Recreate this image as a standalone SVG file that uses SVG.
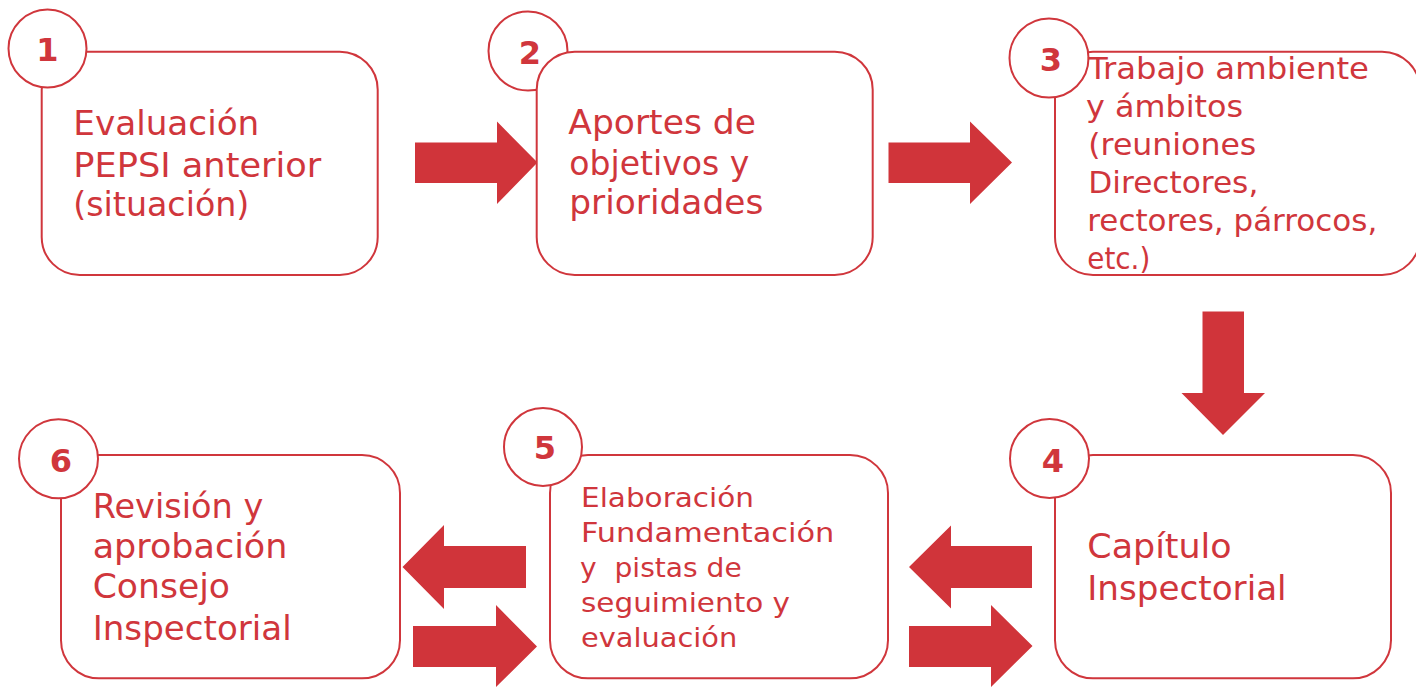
<svg xmlns="http://www.w3.org/2000/svg" width="1416" height="688" viewBox="0 0 1416 688">
<style>
.box{fill:#fff;stroke:#d0363c;stroke-width:2}
.num-c{fill:#fff;stroke:#d0363c;stroke-width:2}
.num{font-family:"DejaVu Sans",sans-serif;font-weight:bold;font-size:32px;fill:#d0363c;text-anchor:middle}
.t{font-family:"DejaVu Sans",sans-serif;fill:#d0363c;font-size:34px}
.t3{font-size:30.5px}
.t5{font-size:26.5px}
.arrow{fill:#d0343a}
</style>
<rect width="1416" height="688" fill="#fff"/>
<g id="connectors">
<polygon class="arrow" points="415,142.5 497,142.5 497,121.5 537.5,162.5 497,204 497,183 415,183"/>
<polygon class="arrow" points="888.5,142.5 970,142.5 970,121.5 1012,162.5 970,204 970,183 888.5,183"/>
<polygon class="arrow" points="1202.5,311.5 1244,311.5 1244,393 1265,393 1223,435 1181.5,393 1202.5,393"/>
<polygon class="arrow" points="1032,546 951,546 951,525.5 909,567 951,608.5 951,588 1032,588"/>
<polygon class="arrow" points="909,626 991,626 991,605 1032.5,646 991,687 991,667 909,667"/>
<polygon class="arrow" points="526,546 444,546 444,525 402.5,567 444,609 444,588 526,588"/>
<polygon class="arrow" points="413,626 496,626 496,605 537,646.5 496,687 496,667 413,667"/>
</g>
<g id="node1">
<rect class="box" x="41.7" y="51.7" width="336" height="223.3" rx="38"/>
<circle class="num-c" cx="47.5" cy="48.5" r="39"/>
<text class="num" x="47.5" y="60.5">1</text>
<text class="t"><tspan x="73.3" y="135" textLength="186" lengthAdjust="spacingAndGlyphs">Evaluación</tspan><tspan x="73.3" y="176.5" textLength="248" lengthAdjust="spacingAndGlyphs">PEPSI anterior</tspan><tspan x="73.3" y="216" textLength="176" lengthAdjust="spacingAndGlyphs">(situación)</tspan></text>
</g>
<g id="node2">
<circle class="num-c" cx="528" cy="51" r="39.5"/>
<rect class="box" x="536.7" y="51.7" width="336" height="223.3" rx="38"/>
<text class="num" x="530" y="64">2</text>
<text class="t"><tspan x="568.3" y="133.5" textLength="187.7" lengthAdjust="spacingAndGlyphs">Aportes de</tspan><tspan x="569.3" y="174.5" textLength="180" lengthAdjust="spacingAndGlyphs">objetivos y</tspan><tspan x="569.3" y="214" textLength="194" lengthAdjust="spacingAndGlyphs">prioridades</tspan></text>
</g>
<g id="node3">
<rect class="box" x="1055" y="51.7" width="365" height="223.3" rx="38"/>
<circle class="num-c" cx="1049" cy="58" r="39.5"/>
<text class="num" x="1051" y="70.5">3</text>
<text class="t t3"><tspan x="1088" y="79" textLength="281" lengthAdjust="spacingAndGlyphs">Trabajo ambiente</tspan><tspan x="1086" y="116.7" textLength="157" lengthAdjust="spacingAndGlyphs">y ámbitos</tspan><tspan x="1088.3" y="155" textLength="168" lengthAdjust="spacingAndGlyphs">(reuniones</tspan><tspan x="1088.3" y="193.3" textLength="170" lengthAdjust="spacingAndGlyphs">Directores,</tspan><tspan x="1087.3" y="231" textLength="290" lengthAdjust="spacingAndGlyphs">rectores, párrocos,</tspan><tspan x="1087.3" y="269.3" textLength="63" lengthAdjust="spacingAndGlyphs">etc.)</tspan></text>
</g>
<g id="node4">
<rect class="box" x="1055" y="455" width="336" height="223.3" rx="38"/>
<circle class="num-c" cx="1049.5" cy="458.5" r="39.5"/>
<text class="num" x="1053" y="471.5">4</text>
<text class="t"><tspan x="1087.3" y="558.3" textLength="144.3" lengthAdjust="spacingAndGlyphs">Capítulo</tspan><tspan x="1087.3" y="600" textLength="199.3" lengthAdjust="spacingAndGlyphs">Inspectorial</tspan></text>
</g>
<g id="node5">
<rect class="box" x="550" y="455" width="338" height="223.3" rx="38"/>
<circle class="num-c" cx="543" cy="447" r="39"/>
<text class="num" x="545" y="458.5">5</text>
<text class="t t5"><tspan x="581" y="506.7" textLength="173" lengthAdjust="spacingAndGlyphs">Elaboración</tspan><tspan x="581" y="541.7" textLength="253.3" lengthAdjust="spacingAndGlyphs">Fundamentación</tspan><tspan x="580" y="576.7" textLength="161.7" lengthAdjust="spacingAndGlyphs" xml:space="preserve">y  pistas de</tspan><tspan x="581" y="612.3" textLength="209" lengthAdjust="spacingAndGlyphs">seguimiento y</tspan><tspan x="581" y="646.7" textLength="156.3" lengthAdjust="spacingAndGlyphs">evaluación</tspan></text>
</g>
<g id="node6">
<rect class="box" x="61" y="455" width="339" height="223.3" rx="38"/>
<circle class="num-c" cx="58.5" cy="458.8" r="39.5"/>
<text class="num" x="61" y="472">6</text>
<text class="t"><tspan x="92.7" y="518.3" textLength="170.7" lengthAdjust="spacingAndGlyphs">Revisión y</tspan><tspan x="92.7" y="558.3" textLength="194.7" lengthAdjust="spacingAndGlyphs">aprobación</tspan><tspan x="92.7" y="598.3" textLength="137.3" lengthAdjust="spacingAndGlyphs">Consejo</tspan><tspan x="92.7" y="640" textLength="199" lengthAdjust="spacingAndGlyphs">Inspectorial</tspan></text>
</g>
</svg>
